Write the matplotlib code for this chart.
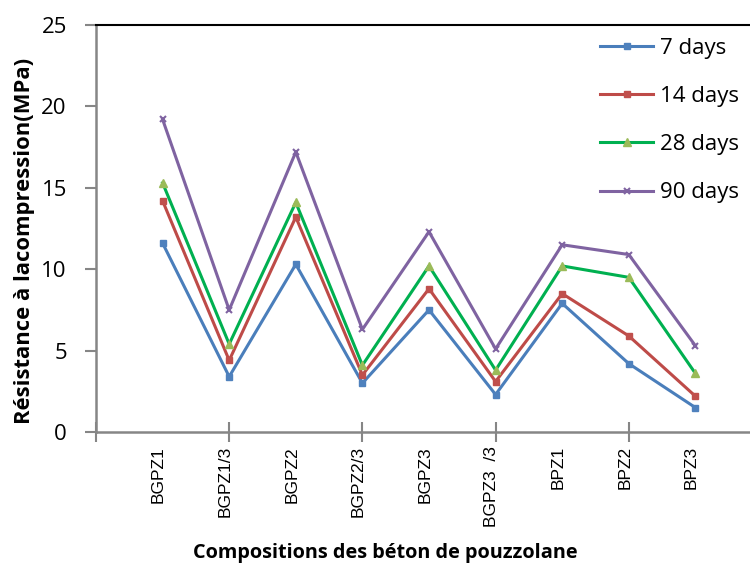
import matplotlib
matplotlib.use("Agg")
import matplotlib.pyplot as plt

compositions = ["BGPZ1", "BGPZ1/3", "BGPZ2", "BGPZ2/3", "BGPZ3",
                "BGPZ3  /3", "BPZ1", "BPZ2", "BPZ3"]
days_7 = [11.6, 3.4, 10.3, 3.0, 7.5, 2.3, 7.9, 4.2, 1.5]
days_14 = [14.2, 4.4, 13.2, 3.5, 8.8, 3.1, 8.5, 5.9, 2.2]
days_28 = [15.3, 5.4, 14.1, 4.1, 10.2, 3.8, 10.2, 9.5, 3.6]
days_90 = [19.2, 7.5, 17.2, 6.3, 12.3, 5.1, 11.5, 10.9, 5.3]
y_ticks = [0, 5, 10, 15, 20, 25]

num_font = "Open Sans"
grey = "#868686"

fig = plt.figure(figsize=(7.5, 5.68), dpi=100)
ax = fig.add_axes([96 / 750, 136 / 568, 1 - 96 / 750, (432 - 25) / 568])

x = list(range(1, len(compositions) + 1))

ax.plot(x, days_7, color="#4A7EBB", lw=2.2, marker="s", ms=5,
        mfc="#4F81BD", mec="#4F81BD", label="7 days")
ax.plot(x, days_14, color="#BE4B48", lw=2.2, marker="s", ms=5,
        mfc="#C0504D", mec="#C0504D", label="14 days")
ax.plot(x, days_28, color="#00B050", lw=2.2, marker="^", ms=6,
        mfc="#9BBB59", mec="#9BBB59", label="28 days")
ax.plot(x, days_90, color="#7F63A1", lw=2.2, marker="x", ms=5, mew=1.5,
        mec="#7F63A1", label="90 days")

ax.set_xlim(0, 9.82)
ax.set_ylim(0, 25)

# category labels sit under the points, tick marks every two categories
ax.set_xticks([0, 2, 4, 6, 8])
ax.set_xticklabels([])
ax.tick_params(axis="x", direction="inout", length=14, width=1.5, color=grey)
for xi, name in zip(x, compositions):
    ax.text(xi - 0.06, -0.035, name, transform=ax.get_xaxis_transform(),
            rotation=90, ha="center", va="top", fontsize=12.5,
            family="Liberation Sans")

ax.set_yticks(y_ticks)
ax.set_yticklabels([str(v) for v in y_ticks], fontsize=16, family=num_font)
ax.tick_params(axis="y", direction="out", length=8, width=1.5, color=grey,
               pad=13)

ax.spines["left"].set_color(grey)
ax.spines["left"].set_linewidth(1.8)
ax.spines["bottom"].set_color(grey)
ax.spines["bottom"].set_linewidth(1.8)
ax.spines["top"].set_color("black")
ax.spines["top"].set_linewidth(1.5)
ax.spines["right"].set_visible(False)

ax.set_ylabel("Résistance à lacompression(MPa)", fontsize=15.8,
              fontweight="bold", family=num_font)
ax.yaxis.set_label_coords(-0.094, 0.47)
fig.text(385 / 750, 1 - 553 / 568, "Compositions des béton de pouzzolane",
         ha="center", va="center", fontsize=14.3, fontweight="bold",
         family=num_font)

ax.legend(loc="upper left", bbox_to_anchor=(0.771, 0.968), frameon=False,
          prop={"family": num_font, "size": 16}, borderaxespad=0,
          borderpad=0, handlelength=2.39, labelspacing=1.22,
          handletextpad=0.28)

fig.savefig("out.png", dpi=100)
